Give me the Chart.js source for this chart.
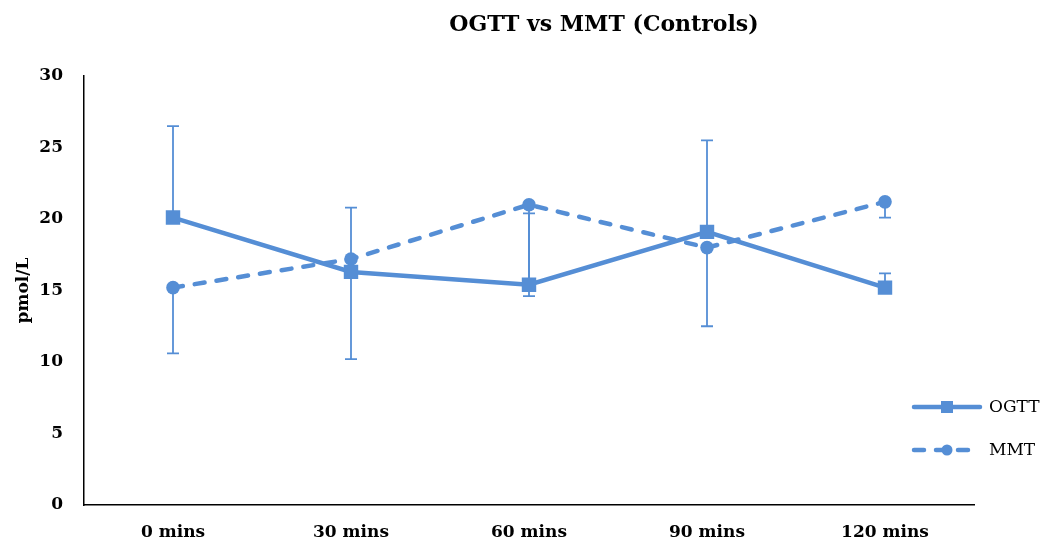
<!DOCTYPE html>
<html>
<head>
<meta charset="utf-8">
<script src="https://cdn.jsdelivr.net/npm/chart.js@4/dist/chart.umd.min.js"></script>
<style>
  html, body { margin: 0; padding: 0; background: #fff; }
  #wrap { width: 1046px; height: 547px; }
</style>
</head>
<body>
<div id="wrap"><canvas id="ogttChart" width="1046" height="547"></canvas></div>
<script>
const timepoints = ["0 mins", "30 mins", "60 mins", "90 mins", "120 mins"];
const ogtt = [20.1, 16.3, 15.4, 19.1, 15.2];
const ogttUpper = [26.5, 20.8, 20.4, 25.5, 16.2];   // plus error bars only
const mmt = [15.2, 17.2, 21.0, 18.0, 21.2];
const mmtLower = [10.6, 10.2, 14.6, 12.5, 20.1];    // minus error bars only
const yTicks = [0, 5, 10, 15, 20, 25, 30];

const BLUE = "#558ed5";
const SERIF = "'DejaVu Serif', serif";

// whiskers: one end per dataset, drawn with the chart's own scales
const errorBars = {
  id: "errorBars",
  beforeDatasetsDraw(chart) {
    const { ctx, scales: { x, y } } = chart;
    const ends = [ogttUpper, mmtLower];
    ctx.save();
    ctx.strokeStyle = BLUE;
    ctx.lineWidth = 1.8;
    chart.data.datasets.forEach((ds, di) => {
      ds.data.forEach((v, i) => {
        const px = x.getPixelForValue(i);
        const y0 = y.getPixelForValue(v);
        const y1 = y.getPixelForValue(ends[di][i]);
        ctx.beginPath();
        ctx.moveTo(px, y0);
        ctx.lineTo(px, y1);
        ctx.moveTo(px - 6, y1);
        ctx.lineTo(px + 6, y1);
        ctx.stroke();
      });
    });
    ctx.restore();
  }
};

// title and legend sit at fixed spots, partly over the plot area
const decorations = {
  id: "decorations",
  afterDraw(chart) {
    const ctx = chart.ctx;
    ctx.save();
    ctx.fillStyle = "#000";
    ctx.font = "bold 22px " + SERIF;
    ctx.textAlign = "center";
    ctx.textBaseline = "middle";
    ctx.fillText("OGTT vs MMT (Controls)", 604, 25);

    const rows = [407, 450];
    chart.data.datasets.forEach((ds, i) => {
      const yy = rows[i];
      ctx.strokeStyle = ds.borderColor;
      ctx.lineWidth = ds.borderWidth;
      ctx.lineCap = "round";
      ctx.setLineDash(ds.borderDash || []);
      ctx.beginPath();
      ctx.moveTo(914, yy);
      ctx.lineTo(980, yy);
      ctx.stroke();
      ctx.setLineDash([]);
      ctx.fillStyle = ds.pointBackgroundColor;
      if (ds.pointStyle === "rect") {
        ctx.fillRect(947 - 6, yy - 6, 12, 12);
      } else {
        ctx.beginPath();
        ctx.arc(947, yy, 5.5, 0, Math.PI * 2);
        ctx.fill();
      }
      ctx.fillStyle = "#000";
      ctx.font = "17px " + SERIF;
      ctx.textAlign = "left";
      ctx.fillText(ds.label, 989, yy + 1);
    });
    ctx.restore();
  }
};

new Chart(document.getElementById("ogttChart"), {
  type: "line",
  data: {
    labels: timepoints,
    datasets: [
      {
        label: "OGTT",
        data: ogtt,
        borderColor: BLUE,
        backgroundColor: BLUE,
        borderWidth: 4.5,
        pointStyle: "rect",
        pointRadius: 10.2,
        pointBorderWidth: 0,
        pointBackgroundColor: BLUE,
        tension: 0
      },
      {
        label: "MMT",
        data: mmt,
        borderColor: BLUE,
        backgroundColor: BLUE,
        borderWidth: 4.5,
        borderDash: [10, 12],
        borderCapStyle: "round",
        pointStyle: "circle",
        pointRadius: 6.8,
        pointBorderWidth: 0,
        pointBackgroundColor: BLUE,
        tension: 0
      }
    ]
  },
  options: {
    responsive: false,
    animation: false,
    layout: { padding: { top: 76, right: 72, left: 0, bottom: 0 } },
    plugins: {
      legend: { display: false },
      title: { display: false },
      tooltip: { enabled: false }
    },
    scales: {
      x: {
        grid: { display: false, drawTicks: false },
        border: { display: true, color: "#000", width: 1.5 },
        offset: true,
        ticks: {
          color: "#000",
          padding: 17,
          font: { family: SERIF, size: 17, weight: "bold" }
        },
        afterFit(scale) { scale.height = 42; }
      },
      y: {
        min: 0,
        max: 30,
        grid: { display: false, drawTicks: false },
        border: { display: true, color: "#000", width: 1.5 },
        afterBuildTicks(scale) { scale.ticks = yTicks.map(v => ({ value: v })); },
        ticks: {
          color: "#000",
          padding: 21,
          font: { family: SERIF, size: 17, weight: "bold" }
        },
        title: {
          display: true,
          text: "pmol/L",
          color: "#000",
          padding: { top: 13, bottom: 0 },
          font: { family: SERIF, size: 17, weight: "bold" }
        },
        afterFit(scale) { scale.width = 84; }
      }
    }
  },
  plugins: [errorBars, decorations]
});
</script>
</body>
</html>
